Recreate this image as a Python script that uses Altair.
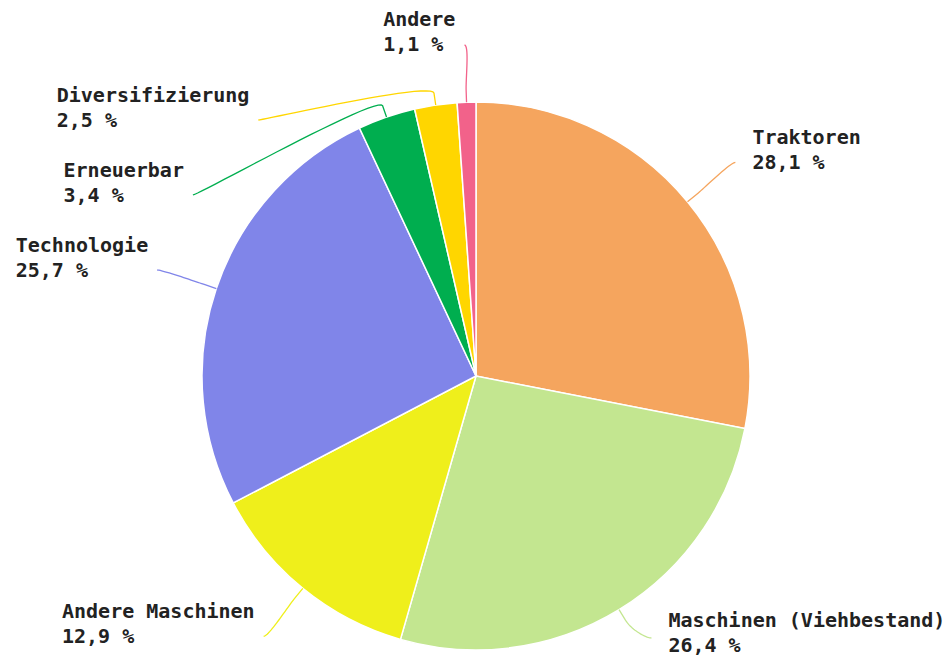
import math
import altair as alt
import pandas as pd

# ---- data -------------------------------------------------------------
labels = ["Traktoren", "Maschinen (Viehbestand)", "Andere Maschinen",
          "Technologie", "Erneuerbar", "Diversifizierung", "Andere"]
shares = [28.1, 26.4, 12.9, 25.7, 3.4, 2.5, 1.1]
colors = ["#F5A55E", "#C3E690", "#EFEF1B", "#8085E9",
          "#00AE4F", "#FFD600", "#F2628A"]

# ---- layout constants (pixels) -----------------------------------------
W, H = 936, 650
CX, CY = 468, 368          # pie centre inside the plot
R = 274                    # pie radius
LABEL_DIST = 62            # label distance outside the pie
BREAK = 12                 # connector break distance
GAP_LEFT, GAP_RIGHT = 9, 17
SPACING = 75               # minimum vertical spacing of labels
TOP, BOTTOM = 37, 630      # anchor bounds
TEXT_TOP, TEXT_BOTTOM = 37, 638
LINE_H = 25
FONT = "DejaVu Sans Mono"
FONT_SIZE = 20
CHAR_W = FONT_SIZE * 0.602

total = sum(shares)
value_text = [f"{v:.1f}".replace(".", ",") + " %" for v in shares]


def polar(a, r):
    return CX + r * math.sin(a), CY - r * math.cos(a)


# mid angles
mids = []
cum = 0.0
for v in shares:
    mids.append(2 * math.pi * (cum + v / 2) / total)
    cum += v

rl = R + LABEL_DIST
items = []
for i, a in enumerate(mids):
    items.append(dict(i=i, a=a, left=math.sin(a) < 0,
                      nat=CY - rl * math.cos(a)))

# distribute labels per side
for side in (True, False):
    group = sorted([it for it in items if it["left"] == side], key=lambda d: d["nat"])
    prev = None
    for it in group:
        y = it["nat"]
        pushed = False
        if prev is not None and prev + SPACING > y:
            y = prev + SPACING
            pushed = True
        y = min(max(y, TOP), BOTTOM)
        it["y"] = y
        it["pushed"] = pushed
        prev = y

line_rows, text_rows = [], []
for it in items:
    i, a, left = it["i"], it["a"], it["left"]
    ysrc = it["y"] if it["pushed"] else it["nat"]
    dx = math.sqrt(max(rl ** 2 - (ysrc - CY) ** 2, 0))
    ax = CX - dx if left else CX + dx
    ay = it["y"]
    # label block
    y2 = min(max(ysrc + 1, TEXT_TOP), TEXT_BOTTOM)
    width = CHAR_W * max(len(labels[i]), len(value_text[i]))
    bx = ax - GAP_LEFT - width if left else ax + GAP_RIGHT
    text_rows.append(dict(label=labels[i], value=value_text[i],
                          tx=bx - CX, ty1=CY - (y2 - LINE_H), ty2=CY - y2))
    # connector (soft bezier then straight to slice)
    tx_, ty_ = polar(a, R)
    bkx, bky = polar(a, R + BREAK)
    p0 = (ax, ay)
    c1 = (ax + (5 if left else -5), ay)
    c2 = (2 * bkx - tx_, 2 * bky - ty_)
    p3 = (bkx, bky)
    pts = []
    n = 24
    for k in range(n + 1):
        t = k / n
        u = 1 - t
        x = u**3 * p0[0] + 3 * u * u * t * c1[0] + 3 * u * t * t * c2[0] + t**3 * p3[0]
        y = u**3 * p0[1] + 3 * u * u * t * c1[1] + 3 * u * t * t * c2[1] + t**3 * p3[1]
        pts.append((x, y))
    pts.append((tx_, ty_))
    for k, (x, y) in enumerate(pts):
        line_rows.append(dict(label=labels[i], seq=k, px=x - CX, py=CY - y))

pie_df = pd.DataFrame({"label": labels, "share": shares, "idx": range(len(labels))})
line_df = pd.DataFrame(line_rows)
text_df = pd.DataFrame(text_rows)

xs = alt.Scale(domain=[-CX, W - CX], nice=False, zero=False)
ys = alt.Scale(domain=[CY - H, CY], nice=False, zero=False)
cs = alt.Scale(domain=labels, range=colors)

pie = alt.Chart(pie_df).mark_arc(outerRadius=R, stroke="white", strokeWidth=1.5).encode(
    theta=alt.Theta("share:Q", stack=True),
    order=alt.Order("idx:Q"),
    color=alt.Color("label:N", scale=cs, legend=None),
    x=alt.XDatum(0, type="quantitative", scale=xs, axis=None),
    y=alt.YDatum(0, type="quantitative", scale=ys, axis=None),
)

lines = alt.Chart(line_df).mark_line(strokeWidth=1.3).encode(
    x=alt.X("px:Q", scale=xs, axis=None),
    y=alt.Y("py:Q", scale=ys, axis=None),
    detail="label:N",
    order="seq:Q",
    color=alt.Color("label:N", scale=cs, legend=None),
)

txt_style = dict(align="left", baseline="middle", font=FONT, fontSize=FONT_SIZE,
                 fontWeight="bold", color="#222222")
names = alt.Chart(text_df).mark_text(**txt_style).encode(
    x=alt.X("tx:Q", scale=xs, axis=None),
    y=alt.Y("ty1:Q", scale=ys, axis=None),
    text="label:N",
)
vals = alt.Chart(text_df).mark_text(**txt_style).encode(
    x=alt.X("tx:Q", scale=xs, axis=None),
    y=alt.Y("ty2:Q", scale=ys, axis=None),
    text="value:N",
)

chart = alt.layer(pie, lines, names, vals).properties(
    width=W, height=H, padding=0,
    autosize=alt.AutoSizeParams(type="none"),
    background="white",
).configure_view(stroke=None)

chart.save("out.html", embed_options={"renderer": "svg", "actions": False})
